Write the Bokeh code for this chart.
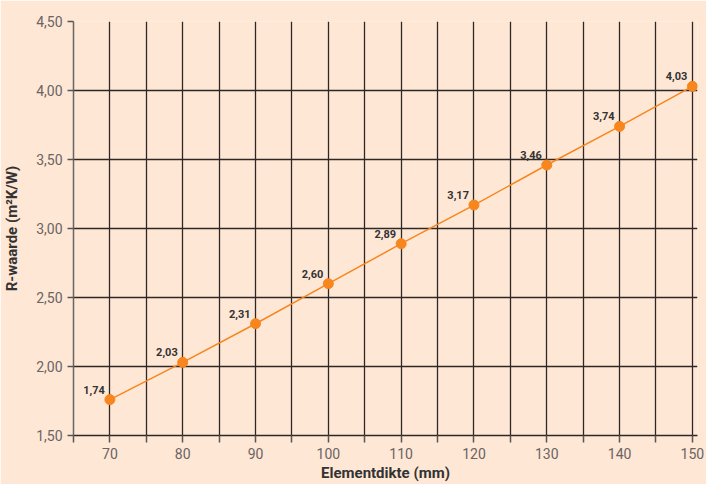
from bokeh.plotting import figure
from bokeh.models import FixedTicker, CustomJSTickFormatter, Range1d, ColumnDataSource
from bokeh.core.properties import value
from bokeh.embed import file_html
from bokeh.resources import INLINE

thickness = [70, 80, 90, 100, 110, 120, 130, 140, 150]
r_value = [1.76, 2.03, 2.31, 2.60, 2.89, 3.17, 3.46, 3.74, 4.03]
r_labels = ["1,74", "2,03", "2,31", "2,60", "2,89", "3,17", "3,46", "3,74", "4,03"]
x_major = [70, 80, 90, 100, 110, 120, 130, 140, 150]
x_minor = [65, 75, 85, 95, 105, 115, 125, 135, 145]
y_ticks = [1.5, 2.0, 2.5, 3.0, 3.5, 4.0, 4.5]

BG = "#FFE7D6"
GRID = "#2e2825"
ORANGE = "#F7861E"

p = figure(width=706, height=484, output_backend="svg", toolbar_location=None,
           x_range=Range1d(65, 150.7), y_range=Range1d(1.5, 4.5),
           background_fill_color=BG, border_fill_color=BG,
           min_border_left=70, min_border_right=9, min_border_top=21, min_border_bottom=46)
p.outline_line_color = None

p.xaxis.ticker = FixedTicker(ticks=x_major, minor_ticks=x_minor)
p.yaxis.ticker = FixedTicker(ticks=y_ticks)
p.yaxis.formatter = CustomJSTickFormatter(code="return tick.toFixed(2).replace('.', ',');")

p.xgrid.grid_line_color = GRID
p.xgrid.grid_line_width = 1.3
p.xgrid.minor_grid_line_color = GRID
p.xgrid.minor_grid_line_width = 1.3
p.ygrid.grid_line_color = GRID
p.ygrid.grid_line_width = 1.3

for ax in (p.xaxis, p.yaxis):
    ax.axis_line_color = "#666"
    ax.axis_line_width = 1.5
    ax.major_tick_line_color = "#555"
    ax.major_tick_line_width = 1.5
    ax.minor_tick_line_color = "#555"
    ax.minor_tick_line_width = 1.5
    ax.major_label_text_color = "#6a6462"
    ax.major_label_text_font = "Roboto"
    ax.major_label_text_font_size = "14px"
    ax.axis_label_text_font = "Roboto"
    ax.axis_label_text_font_style = "bold"
    ax.axis_label_text_font_size = "15px"
    ax.axis_label_text_color = "#333"

p.xaxis.axis_line_color = GRID
p.xaxis.major_tick_in = 0
p.xaxis.major_tick_out = 7
p.xaxis.minor_tick_in = 0
p.xaxis.minor_tick_out = 7
p.xaxis.major_label_standoff = 5
p.xaxis.axis_label = "Elementdikte (mm)"
p.xaxis.axis_label_standoff = 2

p.yaxis.major_tick_in = 0
p.yaxis.major_tick_out = 6
p.yaxis.minor_tick_line_color = None
p.yaxis.major_label_standoff = 5
p.yaxis.axis_label = "R-waarde (m²K/W)"
p.yaxis.axis_label_standoff = 12

src = ColumnDataSource(dict(x=thickness, y=r_value, t=r_labels))
p.line("x", "y", source=src, line_color=ORANGE, line_width=1.5)
p.scatter("x", "y", source=src, size=10, fill_color=ORANGE, line_color=ORANGE)
p.text("x", "y", text="t", source=src, text_align="right", text_baseline="bottom",
       x_offset=-5, y_offset=-6, text_font=value("Roboto"), text_font_style="bold",
       text_font_size="11px", text_color="#333")

open("out.html", "w").write(file_html(p, INLINE))
